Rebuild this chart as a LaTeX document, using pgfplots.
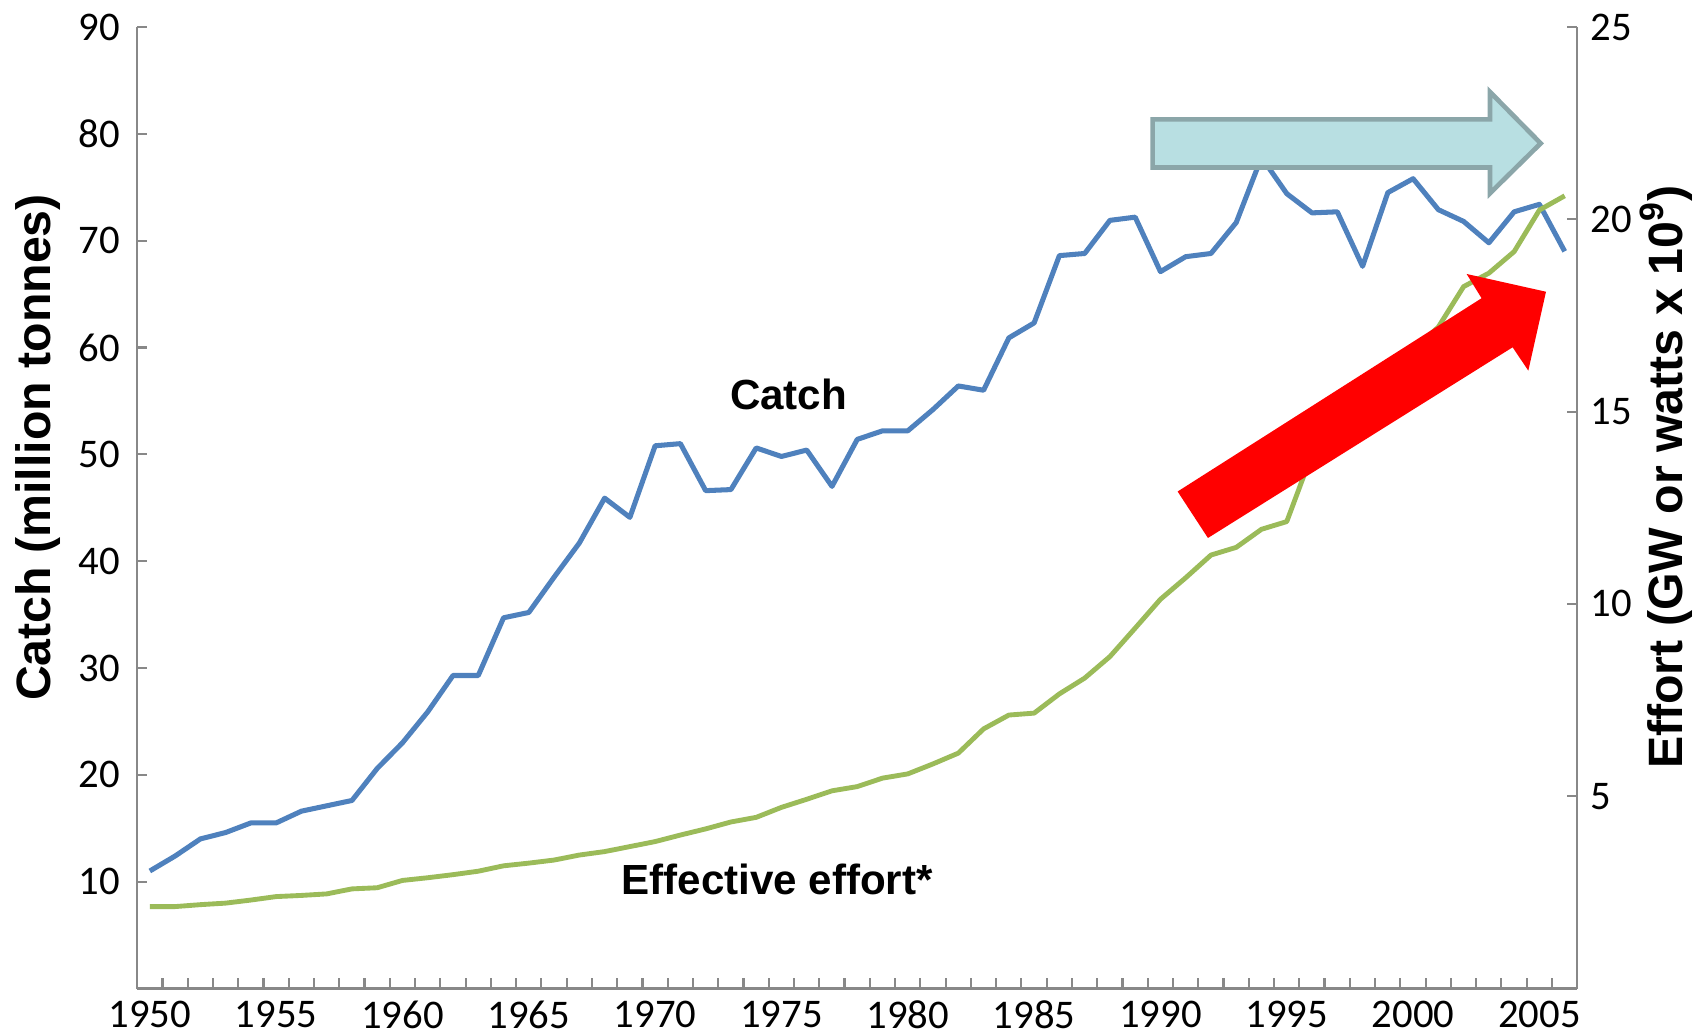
\documentclass[border=0pt]{standalone}
\usepackage{pgfplots}
\pgfplotsset{compat=1.18}
\usepackage{pgfplotstable}
\usepackage{fontspec}
\setmainfont{Carlito}
\newfontfamily\lsans{Liberation Sans}
\definecolor{catchblue}{HTML}{4F81BD}
\definecolor{effgreen}{HTML}{9BBB59}
\definecolor{axgray}{HTML}{888888}
\definecolor{boxfill}{HTML}{B8DFE2}
\definecolor{boxedge}{HTML}{8BA6A9}
\definecolor{arrowred}{HTML}{FF0000}

\pgfplotstableread{
year catch
1950 11.0
1951 12.4
1952 14.0
1953 14.6
1954 15.5
1955 15.5
1956 16.6
1957 17.1
1958 17.6
1959 20.6
1960 23.0
1961 25.9
1962 29.3
1963 29.3
1964 34.7
1965 35.2
1966 38.5
1967 41.7
1968 45.9
1969 44.1
1970 50.8
1971 51.0
1972 46.6
1973 46.7
1974 50.6
1975 49.8
1976 50.4
1977 47.0
1978 51.4
1979 52.2
1980 52.2
1981 54.2
1982 56.4
1983 56.0
1984 60.9
1985 62.3
1986 68.6
1987 68.8
1988 71.9
1989 72.2
1990 67.1
1991 68.5
1992 68.8
1993 71.7
1994 77.8
1995 74.4
1996 72.6
1997 72.7
1998 67.6
1999 74.5
2000 75.8
2001 72.9
2002 71.8
2003 69.8
2004 72.7
2005 73.4
2006 69.0
}\catchtab

\pgfplotstableread{
year effort
1950 2.13
1951 2.13
1952 2.18
1953 2.22
1954 2.30
1955 2.39
1956 2.42
1957 2.46
1958 2.59
1959 2.62
1960 2.81
1961 2.88
1962 2.96
1963 3.05
1964 3.19
1965 3.26
1966 3.34
1967 3.47
1968 3.56
1969 3.69
1970 3.82
1971 3.99
1972 4.15
1973 4.33
1974 4.45
1975 4.71
1976 4.92
1977 5.14
1978 5.25
1979 5.47
1980 5.58
1981 5.84
1982 6.12
1983 6.75
1984 7.11
1985 7.16
1986 7.66
1987 8.07
1988 8.63
1989 9.37
1990 10.12
1991 10.68
1992 11.27
1993 11.47
1994 11.94
1995 12.14
1996 13.90
1997 14.60
1998 15.30
1999 15.90
2000 16.60
2001 17.20
2002 18.25
2003 18.60
2004 19.16
2005 20.24
2006 20.61
}\efforttab

\begin{document}
\begin{tikzpicture}
\pgfplotsset{
  base/.style={
    scale only axis, width=399.9pt, height=267pt,
    xmin=1949.5, xmax=2006.5,
    axis line style={axgray, line width=0.6pt},
    tick style={axgray, line width=0.6pt},
    tick align=inside,
    major tick length=2.8pt, minor tick length=2.8pt,
    /pgf/number format/assume math mode=true,
    ticklabel style={font=\fontsize{11.3}{13}\selectfont, text=black},
  }
}
\begin{axis}[base,
  axis x line*=bottom, axis y line*=left,
  ymin=0, ymax=90, ytick={10,20,...,90},
  xtick={1950,1955,...,2005},
  minor xtick={1950.5,1951.5,...,2005.5},
  major x tick style={draw=none},
  xticklabel style={/pgf/number format/1000 sep=, inner sep=0pt, anchor=north, yshift=-3.2pt},
  yticklabel style={inner sep=0pt, anchor=east, xshift=-4.6pt},
]
\addplot[catchblue, line width=1.4pt, line join=round] table[x=year,y=catch]{\catchtab};
\coordinate (SW) at (rel axis cs:0,0);
\coordinate (SE) at (rel axis cs:1,0);
\coordinate (NE) at (rel axis cs:1,1);
% cyan block arrow
\coordinate (c1) at (axis cs:1989.69,81.35);
\coordinate (c2) at (axis cs:2003.04,81.35);
\coordinate (c3) at (axis cs:2003.04,83.93);
\coordinate (c4) at (axis cs:2005.05,79.11);
\coordinate (c5) at (axis cs:2003.04,74.43);
\coordinate (c6) at (axis cs:2003.04,76.85);
\coordinate (c7) at (axis cs:1989.69,76.85);
% red block arrow
\coordinate (r1) at (axis cs:1990.68,46.52);
\coordinate (r2) at (axis cs:2002.71,64.61);
\coordinate (r3) at (axis cs:2002.12,66.88);
\coordinate (r4) at (axis cs:2005.26,65.22);
\coordinate (r5) at (axis cs:2004.56,57.83);
\coordinate (r6) at (axis cs:2003.94,60.02);
\coordinate (r7) at (axis cs:1991.88,42.17);
\coordinate (tcatch) at (axis cs:1975.28,55.59);
\coordinate (teff) at (axis cs:1974.83,10.24);
\end{axis}
\begin{axis}[base,
  axis x line=none, axis y line*=right,
  ymin=0, ymax=25, ytick={5,10,...,25},
  yticklabel style={inner sep=0pt, anchor=west, xshift=3.5pt},
]
\addplot[effgreen, line width=1.35pt, line join=round] table[x=year,y=effort]{\efforttab};
\end{axis}
\filldraw[fill=boxfill, draw=boxedge, line width=1.3pt, line join=miter]
  (c1) -- (c2) -- (c3) -- (c4) -- (c5) -- (c6) -- (c7) -- cycle;
\fill[arrowred] (r1) -- (r2) -- (r3) -- (r4) -- (r5) -- (r6) -- (r7) -- cycle;
\node[font=\lsans\bfseries\fontsize{11.7}{14}\selectfont, inner sep=0pt] at (tcatch) {Catch};
\node[font=\lsans\bfseries\fontsize{11.7}{14}\selectfont, inner sep=0pt] at (teff) {Effective effort*};
\node[rotate=90, anchor=base, inner sep=0pt, font=\lsans\bfseries\fontsize{13.4}{16}\selectfont]
  at ([xshift=-24.2pt, yshift=150.2pt]SW) {Catch (million tonnes)};
\node[rotate=90, anchor=base, inner sep=0pt, font=\lsans\bfseries\fontsize{13.4}{16}\selectfont]
  at ([xshift=29.1pt, yshift=142pt]SE) {Effort (GW or watts x 10\textsuperscript{9})};
\pgfresetboundingbox
\path[use as bounding box] ([xshift=-38.1pt,yshift=-12.9pt]SW) rectangle ([xshift=32.4pt,yshift=7.5pt]NE);
\end{tikzpicture}
\end{document}
